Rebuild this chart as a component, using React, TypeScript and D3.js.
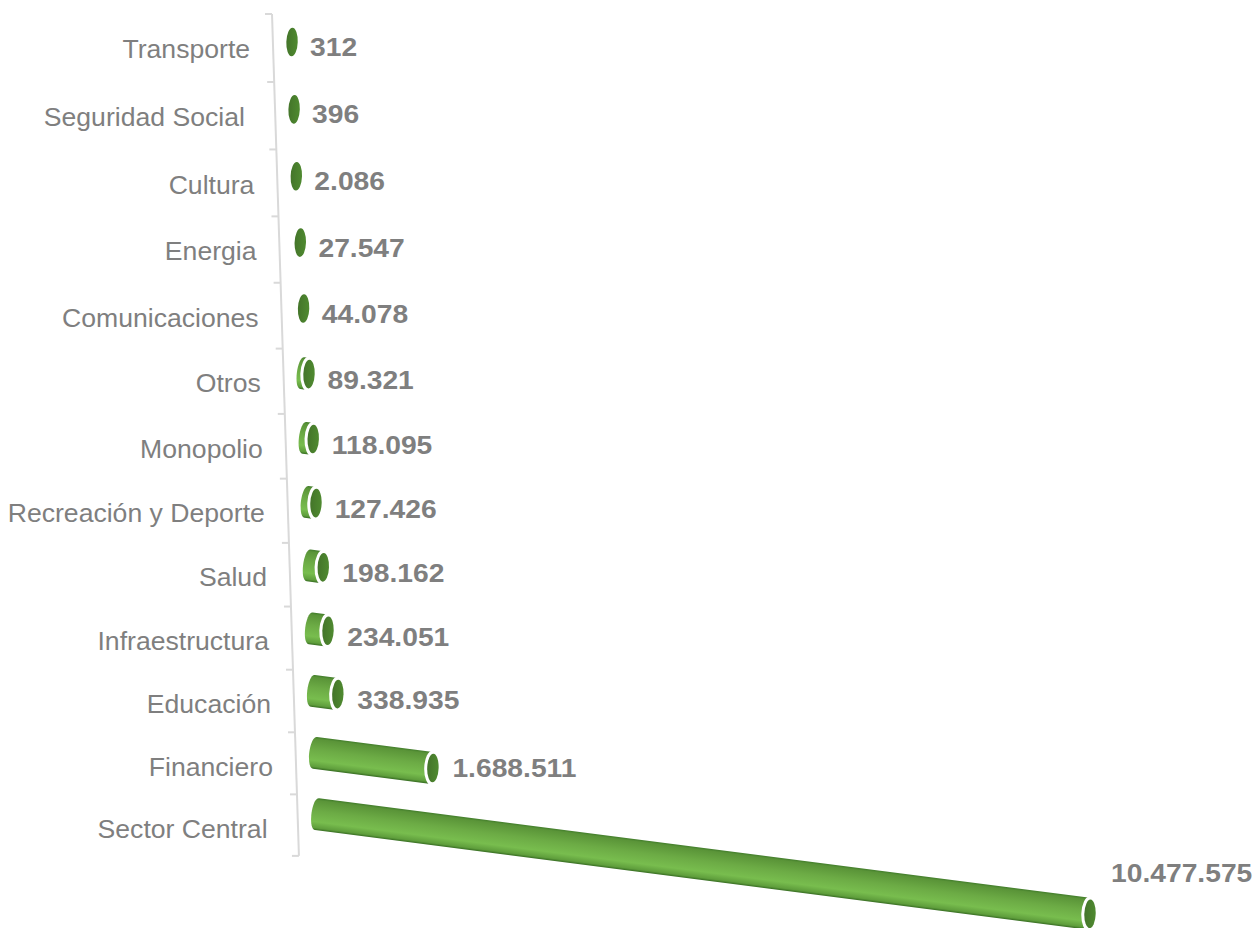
import React from 'react';
import * as d3 from 'd3';

const categories = [
  'Transporte',
  'Seguridad Social ',
  'Cultura',
  'Energia',
  'Comunicaciones',
  'Otros',
  'Monopolio',
  'Recreación y Deporte',
  'Salud',
  'Infraestructura',
  'Educación',
  'Financiero',
  'Sector Central ',
];
const values = [312, 396, 2086, 27547, 44078, 89321, 118095, 127426, 198162, 234051, 338935, 1688511, 10477575];

const width = 1255;
const height = 928;
const slope = 0.129; // the whole chart is tilted, bars run downhill
const barHalf = 16;
const capRx = 5.7;
const capRy = 14.3;

const fmt = d3.formatLocale({ decimal: ',', thousands: '.', grouping: [3], currency: ['', ''] }).format(',d');

// row spacing shrinks a bit towards the bottom (perspective)
const rowY = (t: number) => 14 + 68.27 * t - 0.27 * t * t;
const axisX = d3.scaleLinear().domain([14, 858]).range([272, 299]);
const baseX = d3.scaleLinear().domain([0, 12]).range([292, 317]);
const baseOffset = d3.scaleLinear().domain([0, 12]).range([-6, -11]);
const length = d3.scaleLinear().domain([0, 338935, 1688511, 10477575]).range([0, 25, 118, 773]);

const ticks = d3.range(categories.length + 1);
const angle = (Math.atan(slope) * 180) / Math.PI;

export default function App() {
  return (
    <svg
      width={width}
      height={height}
      style={{ position: 'absolute', left: 0, top: 0, background: '#fff' }}
      fontFamily="'Liberation Sans', Arial, sans-serif"
    >
      <defs>
        <linearGradient id="tube" x1="0" y1="0" x2="0" y2="1">
          <stop offset="0" stopColor="#427d2b" />
          <stop offset="0.07" stopColor="#5a9438" />
          <stop offset="0.4" stopColor="#6cab45" />
          <stop offset="0.74" stopColor="#78bd4e" />
          <stop offset="0.93" stopColor="#5f9e3c" />
          <stop offset="1" stopColor="#376d22" />
        </linearGradient>
        <linearGradient id="cap" x1="0" y1="0" x2="1" y2="0">
          <stop offset="0" stopColor="#44752a" />
          <stop offset="1" stopColor="#4f8a30" />
        </linearGradient>
      </defs>

      <g stroke="#d9d9d9" strokeWidth={2} fill="none">
        <line x1={axisX(rowY(0))} y1={rowY(0)} x2={axisX(rowY(13))} y2={rowY(13)} />
        {ticks.map((t) => (
          <line key={t} x1={axisX(rowY(t)) - 7} x2={axisX(rowY(t))} y1={rowY(t)} y2={rowY(t)} />
        ))}
      </g>

      {categories.map((c, i) => {
        const mid = rowY(i + 0.5);
        return (
          <text
            key={c}
            x={axisX(mid) - 23}
            y={mid + 1 + i * 0.17}
            dy="0.35em"
            textAnchor="end"
            fontSize={26.6}
            fill="#7f7f7f"
            style={{ whiteSpace: 'pre' }}
          >
            {c}
          </text>
        );
      })}

      {values.map((v, i) => {
        const x0 = baseX(i);
        const y0 = rowY(i + 0.5) + baseOffset(i);
        const len = length(v);
        const x1 = x0 + len;
        const y1 = y0 + len * slope;
        const along = Math.hypot(len, len * slope);
        const labelX = x1 + (len > 500 ? 21 : 18 + Math.min(len / 14, 1.5));
        const labelY = y0 + 5 + len * 0.066 + i * 0.25;

        const body = d3.path();
        body.moveTo(0, -barHalf);
        body.lineTo(along, -barHalf);
        body.lineTo(along, barHalf);
        body.lineTo(0, barHalf);
        body.bezierCurveTo(-capRx * 1.3, barHalf, -capRx * 1.3, -barHalf, 0, -barHalf);
        body.closePath();

        return (
          <g key={i}>
            {len > 5 && (
              <path d={body.toString()} fill="url(#tube)" transform={`translate(${x0},${y0}) rotate(${angle})`} />
            )}
            <g transform={`translate(${x1},${y1}) rotate(2)`}>
              {len > 5 && <ellipse cx={-1} cy={0} rx={capRx + 2} ry={capRy + 3} fill="#fff" />}
              <ellipse cx={0} cy={0} rx={capRx} ry={capRy} fill="url(#cap)" />
            </g>
            <text
              transform={`translate(${labelX},${labelY}) scale(1.13,1)`}
              dy="0.35em"
              fontSize={25}
              fontWeight="bold"
              fill="#7f7f7f"
            >
              {fmt(v)}
            </text>
          </g>
        );
      })}
    </svg>
  );
}
